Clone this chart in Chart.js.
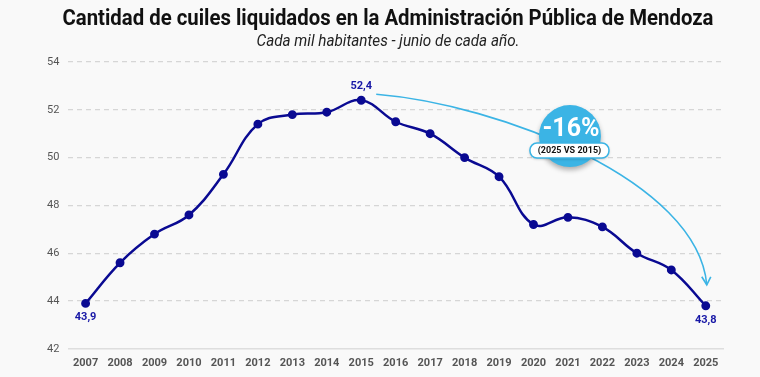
<!DOCTYPE html>
<html lang="es">
<head>
  <meta charset="UTF-8" />
  <title>Cuiles liquidados - Mendoza</title>
  <script src="https://cdn.jsdelivr.net/npm/chart.js"></script>
  <style>
    html, body { margin: 0; padding: 0; background: #f9f9f9; }
    #wrap { width: 760px; height: 377px; }
  </style>
</head>
<body>
  <div id="wrap"><canvas id="chart" width="760" height="377"></canvas></div>

  <script>
    // datos
    const years = ['2007', '2008', '2009', '2010', '2011', '2012', '2013', '2014', '2015', '2016',
      '2017', '2018', '2019', '2020', '2021', '2022', '2023', '2024', '2025'];
    const cuiles = [43.9, 45.6, 46.8, 47.6, 49.3, 51.4, 51.8, 51.9, 52.4, 51.5,
      51.0, 50.0, 49.2, 47.2, 47.5, 47.1, 46.0, 45.3, 43.8];
    const yTicks = [42, 44, 46, 48, 50, 52, 54];
    const labeledIdx = [0, 8, 18];

    const titleText = 'Cantidad de cuiles liquidados en la Administración Pública de Mendoza';
    const subtitleText = 'Cada mil habitantes - junio de cada año.';
    const badgeText = '-16%';
    const badgeSub = '(2025 VS 2015)';

    const navy = '#0a0a92';
    const cyan = '#3bb4e5';

    function fmt(v) {
      return v.toFixed(1).replace('.', ',');
    }

    // titulo angosto (tipo condensed) dibujado a mano
    const headerPlugin = {
      id: 'header',
      afterDraw(chart) {
        const ctx = chart.ctx;
        ctx.save();
        ctx.fillStyle = '#111';
        ctx.textAlign = 'center';
        ctx.textBaseline = 'middle';
        ctx.font = 'bold 22px Roboto';
        let w = ctx.measureText(titleText).width;
        let s = 651 / w;
        ctx.translate(388, 19);
        ctx.scale(s, 1);
        ctx.fillText(titleText, 0, 0);
        ctx.restore();

        ctx.save();
        ctx.fillStyle = '#222';
        ctx.textAlign = 'center';
        ctx.textBaseline = 'middle';
        ctx.font = 'italic 16px Roboto';
        w = ctx.measureText(subtitleText).width;
        s = 263 / w;
        ctx.translate(388, 42);
        ctx.scale(s, 1);
        ctx.fillText(subtitleText, 0, 0);
        ctx.restore();
      }
    };

    const valueLabels = {
      id: 'valueLabels',
      afterDatasetsDraw(chart) {
        const ctx = chart.ctx;
        const meta = chart.getDatasetMeta(0);
        ctx.save();
        ctx.fillStyle = '#1717a6';
        ctx.font = 'bold 11px Roboto';
        ctx.textAlign = 'center';
        ctx.textBaseline = 'middle';
        labeledIdx.forEach(i => {
          const p = meta.data[i];
          const above = i === 8;
          ctx.fillText(fmt(cuiles[i]), p.x, above ? p.y - 14 : p.y + 14);
        });
        ctx.restore();
      }
    };

    // flecha curva + burbuja -16%
    const compareNote = {
      id: 'compareNote',
      afterDatasetsDraw(chart) {
        const ctx = chart.ctx;
        const xs = chart.scales.x, ys = chart.scales.y;
        const x0 = xs.getPixelForValue(8) + 15, y0 = ys.getPixelForValue(cuiles[8]) - 6;
        const x1 = xs.getPixelForValue(18) + 1, y1 = ys.getPixelForValue(cuiles[18]) - 21;

        ctx.save();
        ctx.strokeStyle = cyan;
        ctx.lineWidth = 1.6;
        ctx.beginPath();
        ctx.moveTo(x0, y0);
        ctx.bezierCurveTo(x0 + 123, y0 + 10, x1 - 9, y1 - 104, x1, y1);
        ctx.stroke();
        ctx.beginPath();
        ctx.moveTo(x1 - 5, y1 - 8);
        ctx.lineTo(x1, y1);
        ctx.lineTo(x1 + 4, y1 - 8);
        ctx.stroke();
        ctx.restore();

        const cx = xs.getPixelForValue(14) + 2;
        const cy = ys.getPixelForValue(50.9);

        ctx.save();
        ctx.shadowColor = 'rgba(0,0,0,0.3)';
        ctx.shadowBlur = 5;
        ctx.shadowOffsetY = 3;
        ctx.fillStyle = cyan;
        ctx.beginPath();
        ctx.arc(cx, cy, 31, 0, Math.PI * 2);
        ctx.fill();
        ctx.restore();

        ctx.save();
        ctx.fillStyle = '#fff';
        ctx.font = 'bold 25px Roboto';
        ctx.textAlign = 'center';
        ctx.textBaseline = 'middle';
        ctx.fillText(badgeText, cx + 1, cy - 6);

        const pw = 79, ph = 15;
        const px = cx - pw / 2 - 0.5, py = cy + 7;
        ctx.shadowColor = 'rgba(0,0,0,0.25)';
        ctx.shadowBlur = 3;
        ctx.shadowOffsetY = 1;
        ctx.beginPath();
        ctx.roundRect(px, py, pw, ph, 7);
        ctx.fillStyle = '#fff';
        ctx.fill();
        ctx.shadowColor = 'transparent';
        ctx.strokeStyle = cyan;
        ctx.lineWidth = 1.5;
        ctx.stroke();
        ctx.fillStyle = '#111';
        ctx.font = 'bold 9px Roboto';
        ctx.fillText(badgeSub, px + pw / 2, py + ph / 2 + 0.5);
        ctx.restore();
      }
    };

    new Chart(document.getElementById('chart'), {
      type: 'line',
      data: {
        labels: years,
        datasets: [{
          data: cuiles,
          borderColor: navy,
          backgroundColor: navy,
          borderWidth: 2.5,
          pointRadius: 3.2,
          pointHoverRadius: 3.2,
          tension: 0.4
        }]
      },
      options: {
        responsive: false,
        animation: false,
        layout: { padding: { top: 62, left: 38, right: 37, bottom: 7 } },
        plugins: {
          legend: { display: false },
          title: { display: false },
          tooltip: { enabled: false }
        },
        scales: {
          x: {
            offset: true,
            grid: { display: false },
            border: { display: true, color: '#dedede', width: 1.5 },
            ticks: {
              color: '#555',
              font: { family: 'Roboto', size: 11, weight: 'bold' },
              padding: 0,
              maxRotation: 0,
              autoSkip: false
            }
          },
          y: {
            min: 42,
            max: 54,
            afterBuildTicks(axis) {
              axis.ticks = yTicks.map(v => ({ value: v }));
            },
            grid: {
              color: ctx => ctx.tick && ctx.tick.value === 42 ? 'transparent' : '#d6d6d6',
              lineWidth: 1.2,
              drawTicks: false
            },
            border: { display: false, dash: [5, 4] },
            ticks: {
              color: '#555',
              font: { family: 'Roboto', size: 11 },
              padding: 9
            }
          }
        }
      },
      plugins: [headerPlugin, valueLabels, compareNote]
    });
  </script>
</body>
</html>
